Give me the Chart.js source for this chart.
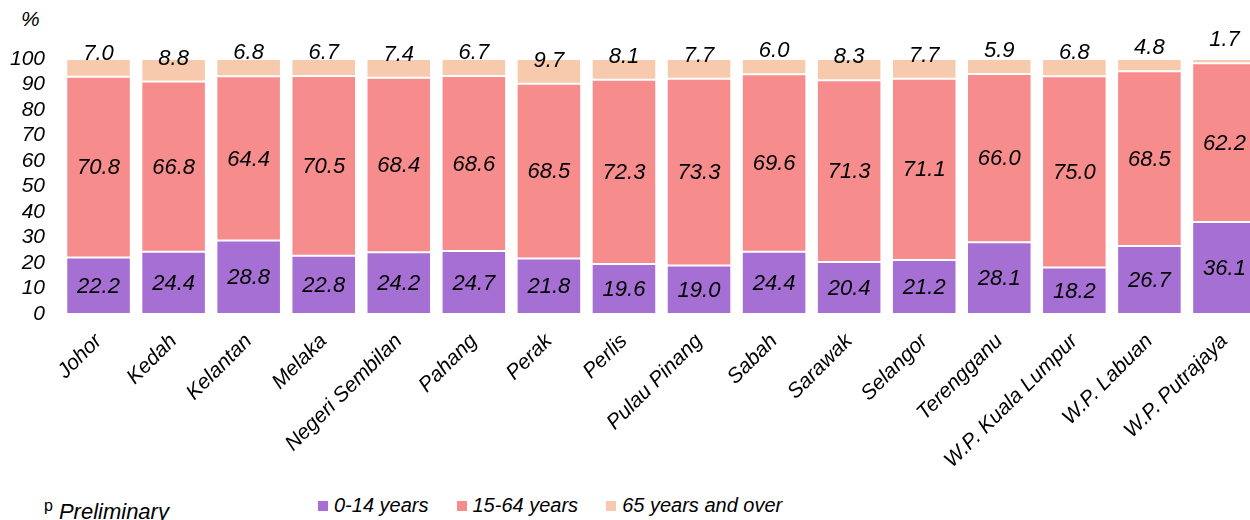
<!DOCTYPE html>
<html>
<head>
<meta charset="utf-8">
<script src="https://cdn.jsdelivr.net/npm/chart.js@4/dist/chart.umd.min.js"></script>
<style>
  html, body { margin: 0; padding: 0; background: #fff; overflow: hidden; width: 1250px; height: 520px; }
  body { position: relative; font-family: "Liberation Sans", Arial, sans-serif; color: #000; }
  #wrap { position: absolute; left: 0; top: 0; width: 1262px; height: 490px; }
  .pct { position: absolute; left: 21px; top: 7px; font-style: italic; font-size: 21px; }
  .legend { position: absolute; left: 318px; top: 494px; font-style: italic; font-size: 20px; display: flex; align-items: center; white-space: nowrap; }
  .legend .item { display: flex; align-items: center; margin-right: 28px; }
  .legend .box { width: 10px; height: 10px; margin-right: 6px; }
  .note { position: absolute; left: 44px; top: 497px; font-size: 22px; font-style: italic; white-space: nowrap; }
  .note sup { font-size: 16px; font-style: normal; margin-right: 6px; }
</style>
</head>
<body>
<div class="pct">%</div>
<div id="wrap"><canvas id="c" width="1262" height="490"></canvas></div>
<div class="legend" id="legend"></div>
<div class="note"><sup>p</sup>Preliminary</div>
<script>
// states, ordered as in the source figure
const states = ['Johor', 'Kedah', 'Kelantan', 'Melaka', 'Negeri Sembilan', 'Pahang', 'Perak', 'Perlis',
  'Pulau Pinang', 'Sabah', 'Sarawak', 'Selangor', 'Terengganu', 'W.P. Kuala Lumpur', 'W.P. Labuan', 'W.P. Putrajaya'];

// share of population by age group (%)
const age0to14  = [22.2, 24.4, 28.8, 22.8, 24.2, 24.7, 21.8, 19.6, 19.0, 24.4, 20.4, 21.2, 28.1, 18.2, 26.7, 36.1];
const age15to64 = [70.8, 66.8, 64.4, 70.5, 68.4, 68.6, 68.5, 72.3, 73.3, 69.6, 71.3, 71.1, 66.0, 75.0, 68.5, 62.2];
const age65plus = [7.0, 8.8, 6.8, 6.7, 7.4, 6.7, 9.7, 8.1, 7.7, 6.0, 8.3, 7.7, 5.9, 6.8, 4.8, 1.7];

const seriesNames = ['0-14 years', '15-64 years', '65 years and over'];
const seriesColors = ['#a66fd3', '#f78c8c', '#f8caad'];
const yTicks = [0, 10, 20, 30, 40, 50, 60, 70, 80, 90, 100];

const FONT = "'Liberation Sans', Arial, sans-serif";

// inline value labels: middle of segment for the lower two, above the base for the top one
const valueLabels = {
  id: 'valueLabels',
  afterDatasetsDraw(chart) {
    const ctx = chart.ctx;
    ctx.save();
    ctx.font = 'italic 22px ' + FONT;
    ctx.fillStyle = '#000';
    ctx.textAlign = 'center';
    ctx.textBaseline = 'middle';
    chart.data.datasets.forEach((ds, di) => {
      const meta = chart.getDatasetMeta(di);
      meta.data.forEach((bar, i) => {
        const v = ds.data[i];
        const y = di === 2 ? bar.base - 24 : (bar.y + bar.base) / 2;
        ctx.fillText(v.toFixed(1), bar.x, y + 1);
      });
    });
    ctx.restore();
  }
};

const datasets = [age0to14, age15to64, age65plus].map((d, i) => ({
  label: seriesNames[i],
  data: d,
  backgroundColor: seriesColors[i],
  borderColor: 'rgba(255,255,255,0.2)',
  borderWidth: 1,
  borderSkipped: false,
  categoryPercentage: 1,
  barPercentage: 0.86,
}));

new Chart(document.getElementById('c'), {
  type: 'bar',
  data: { labels: states, datasets },
  plugins: [valueLabels],
  options: {
    responsive: false,
    devicePixelRatio: 1,
    animation: false,
    layout: { padding: { top: 59, right: 0, left: 0, bottom: 0 } },
    plugins: { legend: { display: false }, tooltip: { enabled: false } },
    scales: {
      x: {
        stacked: true,
        grid: { display: false, drawTicks: false },
        border: { display: false },
        afterFit(s) { s.height = 490 - 314; },
        ticks: {
          autoSkip: false, minRotation: 45, maxRotation: 45, padding: 15,
          color: '#000', font: { family: FONT, size: 21, style: 'italic' }
        }
      },
      y: {
        stacked: true, min: 0, max: 100,
        afterBuildTicks(s) { s.ticks = yTicks.map(v => ({ value: v })); },
        afterFit(s) { s.width = 61; },
        grid: { display: false, drawTicks: false },
        border: { display: false },
        ticks: { autoSkip: false, padding: 16, color: '#000', font: { family: FONT, size: 21, style: 'italic' } }
      }
    }
  }
});

document.getElementById('legend').innerHTML = seriesNames.map((n, i) =>
  `<span class="item"><span class="box" style="background:${seriesColors[i]}"></span>${n}</span>`).join('');
</script>
</body>
</html>
